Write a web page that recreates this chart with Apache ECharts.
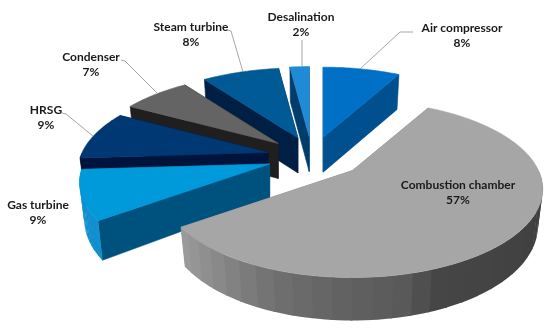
<!DOCTYPE html>
<html><head><meta charset="utf-8">
<style>html,body{margin:0;padding:0;background:#fff}#c{width:550px;height:331px}</style>
<script src="https://cdn.jsdelivr.net/npm/echarts@6/dist/echarts.min.js"></script>
</head><body><div id="c"></div>
<script>
const categories = ['Air compressor','Combustion chamber','Gas turbine','HRSG','Condenser','Steam turbine','Desalination'];
const values = [8,57,9,9,7,8,2];

const topColors = ['#0070C6','#A6A6A6','#0099DA','#003874','#646464','#005A96','#1F8AD6'];
const cutColors = ['#00508F','#8A8A8A','#00527E','#00133A','#1F1F1F','#001F45','#003D6B'];
const wallColors = ['#00508F',null,'#1090D0','#00133A','#1F1F1F','#001F45','#003D6B'];
const explodeX = [1,1.2,1,1,1,0.85,1];
const drawOrder = [6,5,0,4,3,2,1];

const labelCenters = [[462,28],[458,185],[38,205],[46,110],[91,57],[191,27],[301,17]];
const leaders = [
  [[413,32],[400,32],[360,69]], null, null,
  [[62,113],[66,114],[93,136]],
  [[121,60],[125,61],[157,93]],
  [[228,30],[231,31],[243,72]],
  [[302,40],[302,67]]
];

const CX=312, CY=157, EX=45, EY=20.5, R=186, ER=84.6, KR=0.209;
const total = values.reduce((a,b)=>a+b,0);
const rad = d=>d*Math.PI/180;

function proj(ax,ay,theta){
  const X=Math.sin(rad(theta)), Y=-Math.cos(rad(theta));
  const s=1/(1-KR*Y);
  return {x:ax+R*X*s, y:ay+ER*Y*s, Y:Y};
}
function lower(p,ax){
  const d=35+(p.Y>0?8*p.Y:0);
  return [ax+(p.x-ax)*0.975, p.y+d];
}
const shadeStops=[[100,0x3e],[160,0x46],[165,0x58],[180,0x60],[200,0x70],[220,0x8c],[234,0x9c]];
function greyShade(t){
  for(let i=1;i<shadeStops.length;i++){
    if(t<=shadeStops[i][0]){
      const a=shadeStops[i-1],b=shadeStops[i];
      const v=Math.round(a[1]+(b[1]-a[1])*Math.max(0,(t-a[0]))/(b[0]-a[0]));
      return `rgb(${v},${v},${v})`;
    }
  }
  return 'rgb(156,156,156)';
}
let acc=0;
const spans=values.map(v=>{const a=acc/total*360;acc+=v;return [a,acc/total*360];});

function renderSlice(params,api){
  const idx=api.value(0);
  const [a0,a1]=spans[idx];
  const m=rad((a0+a1)/2);
  const ax=CX+EX*explodeX[idx]*Math.sin(m), ay=CY-EY*Math.cos(m);
  const apex=[ax,ay], apexB=[ax,ay+35];
  const kids=[];
  const poly=(pts,fill,z,sw)=>kids.push({type:'polygon',shape:{points:pts},z2:z,
    style:{fill:fill,stroke:sw?fill:null,lineWidth:sw||0}});
  const pa=proj(ax,ay,a0), pb=proj(ax,ay,a1);
  poly([apex,[pa.x,pa.y],lower(pa,ax),apexB],cutColors[idx],1,0.6);
  poly([apex,[pb.x,pb.y],lower(pb,ax),apexB],cutColors[idx],1,0.6);
  const step=idx===1?5:2;
  const lo=Math.max(a0,90), hi=Math.min(a1,270);
  // walls are painted from the front-right end so each band is overlapped by the next
  for(let t=lo;t<hi;t+=step){
    const t2=Math.min(t+step+0.6,hi);
    const sub=[];
    const n=3;
    for(let i=0;i<=n;i++){const p=proj(ax,ay,t+(t2-t)*i/n);sub.push([p.x,p.y]);}
    for(let i=n;i>=0;i--){const p=proj(ax,ay,t+(t2-t)*i/n);sub.push(lower(p,ax));}
    poly(sub,idx===1?greyShade(t+step/2):wallColors[idx],2);
  }
  const topPts=[apex];
  for(let t=a0;t<=a1+1e-6;t+=1){const p=proj(ax,ay,Math.min(t,a1));topPts.push([p.x,p.y]);}
  topPts.push([pb.x,pb.y]);
  poly(topPts,topColors[idx],3,0.6);
  return {type:'group',children:kids};
}

const graphics=[];
categories.forEach((name,i)=>{
  const pct=Math.round(values[i]/total*100)+'%';
  const [x,y]=labelCenters[i];
  [name,pct].forEach((t,j)=>graphics.push({type:'text',x:x,y:y+j*15.5,z:10,
    style:{text:t,fill:'#1a1a1a',font:'bold 12px Lato',textAlign:'center',textVerticalAlign:'middle'}}));
  if(leaders[i]) graphics.push({type:'polyline',z:9,shape:{points:leaders[i]},
    style:{stroke:'#a6a6a6',lineWidth:1,fill:null}});
});

const chart=echarts.init(document.getElementById('c'),null,{renderer:'canvas'});
chart.setOption({
  animation:false,
  backgroundColor:'#fff',
  graphic:graphics,
  series:[{
    type:'custom',
    coordinateSystem:'none',
    silent:true,
    renderItem:renderSlice,
    data:drawOrder.map(i=>[i,values[i]])
  }]
});
</script></body></html>
